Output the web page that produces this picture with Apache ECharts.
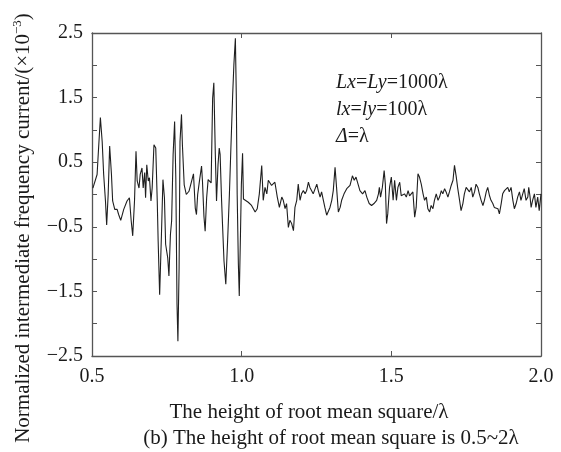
<!DOCTYPE html>
<html>
<head>
<meta charset="utf-8">
<script src="https://cdn.jsdelivr.net/npm/echarts@6/dist/echarts.min.js"></script>
<style>html,body{margin:0;padding:0;background:#fff;}#c{width:561px;height:452px;}</style>
</head>
<body>
<div id="c"></div>
<script>
// Height of root mean square (λ)
const xValues = [
0.503,0.517,0.522,0.528,0.534,0.539,0.545,0.549,0.554,0.559,0.565,0.569,0.576,0.584,0.589,0.596,0.606,0.617,0.625,0.631,
0.636,0.642,0.647,0.651,0.657,0.661,0.667,0.671,0.676,0.679,0.683,0.688,0.692,0.697,0.701,0.707,0.713,0.718,0.721,0.726,
0.732,0.737,0.742,0.746,0.753,0.757,0.762,0.766,0.771,0.776,0.780,0.784,0.787,0.791,0.794,0.799,0.802,0.808,0.815,0.824,
0.833,0.839,0.845,0.849,0.853,0.859,0.866,0.869,0.874,0.878,0.883,0.888,0.894,0.898,0.903,0.907,0.912,0.916,0.921,0.925,
0.928,0.933,0.936,0.941,0.947,0.953,0.959,0.964,0.970,0.974,0.979,0.982,0.985,0.989,0.992,0.996,0.999,1.003,
1.006,1.011,1.022,1.033,1.045,1.052,1.059,1.067,1.072,1.078,1.084,1.089,1.095,1.100,1.106,1.111,1.119,1.126,1.134,1.139,
1.145,1.150,1.156,1.161,1.167,1.173,1.178,1.184,1.189,1.195,1.200,1.206,1.212,1.217,1.223,1.228,1.234,1.239,1.245,1.251,
1.256,1.262,1.267,1.273,1.278,1.284,1.290,1.295,1.301,1.306,1.312,1.317,1.323,1.329,1.334,1.342,1.351,1.362,1.370,1.376,
1.382,1.390,1.395,1.404,1.412,1.418,1.426,1.434,1.442,1.451,1.457,1.460,1.464,1.470,1.476,1.480,1.484,1.488,
1.494,1.500,1.506,1.511,1.517,1.522,1.528,1.533,1.539,1.544,1.550,1.556,1.561,1.567,1.572,1.578,1.583,1.589,1.594,1.600,
1.606,1.611,1.617,1.622,1.628,1.633,1.639,1.644,1.650,1.656,1.661,1.667,1.672,1.678,1.683,1.689,1.694,1.700,1.706,1.711,
1.717,1.722,1.728,1.733,1.739,1.744,1.750,1.756,1.761,1.767,1.772,1.778,1.783,1.789,1.794,1.800,1.806,1.811,1.817,1.822,
1.828,1.833,1.839,1.844,1.850,1.856,1.861,1.867,1.872,1.878,1.883,1.889,1.894,1.900,1.906,1.911,1.917,1.922,1.928,1.933,
1.939,1.944,1.950,1.956,1.959,1.963,1.967,1.972,1.978,1.983,1.989,1.994,2.000
];
// Normalized intermediate frequency current (×10^-3)
const yValues = [
0.10,0.31,0.72,1.19,0.82,0.31,-0.10,-0.47,0.00,0.75,0.31,-0.10,-0.23,-0.23,-0.31,-0.40,-0.23,-0.10,-0.05,-0.41,
-0.64,-0.10,0.67,0.21,0.10,0.31,0.41,0.10,0.34,-0.05,0.46,0.21,0.26,-0.10,0.10,0.77,0.72,-0.10,-0.72,-1.55,
-0.62,0.23,-0.05,-0.77,-0.98,-1.26,-0.62,-0.41,0.62,1.13,0.26,-1.70,-2.27,-1.13,0.82,1.24,0.77,0.15,0.00,0.05,
0.21,0.32,-0.21,-0.31,0.00,0.21,0.44,0.21,-0.34,-0.57,-0.05,0.23,0.21,0.18,1.49,1.73,0.62,-0.10,0.46,0.72,
0.62,-0.10,-0.46,-1.03,-1.39,-0.72,0.00,0.72,1.55,2.01,2.42,1.55,0.00,-1.08,-1.57,-0.62,0.15,0.64,
-0.07,-0.09,-0.12,-0.17,-0.27,-0.22,0.01,0.45,-0.09,0.11,0.01,0.22,0.24,0.14,0.16,0.19,-0.04,-0.20,-0.04,-0.09,
-0.22,-0.14,-0.51,-0.40,-0.45,-0.56,-0.20,-0.09,0.16,-0.09,0.01,0.06,0.01,0.06,0.19,0.11,0.14,0.01,0.04,0.16,
0.06,-0.04,0.04,-0.09,-0.20,-0.32,-0.30,-0.20,-0.09,0.06,0.42,0.11,-0.27,-0.20,-0.09,0.01,0.09,0.14,0.29,0.22,
0.27,0.14,0.06,0.01,0.06,-0.04,-0.14,-0.17,-0.14,-0.09,0.01,0.11,-0.04,0.11,0.37,0.16,-0.45,-0.30,
0.11,0.27,-0.09,0.22,-0.09,0.11,0.19,-0.02,-0.04,0.01,-0.04,0.06,-0.02,0.01,0.04,-0.35,-0.20,0.32,0.27,0.16,
0.01,-0.09,-0.04,-0.22,-0.27,-0.17,-0.22,-0.09,0.01,-0.09,-0.04,0.06,0.01,0.09,0.04,-0.04,0.04,0.14,0.22,0.45,
0.27,0.09,-0.09,-0.25,-0.14,0.01,0.11,0.14,0.04,0.11,-0.04,0.04,0.16,0.11,0.01,-0.09,-0.17,-0.09,0.04,0.11,
-0.02,-0.09,-0.14,-0.20,-0.17,-0.22,-0.30,-0.14,0.01,0.06,0.09,0.11,0.04,0.11,-0.09,-0.22,-0.14,-0.04,0.04,-0.09,
0.01,0.09,-0.09,-0.04,0.11,-0.02,-0.20,-0.09,0.01,-0.20,-0.04,-0.25,0.01
];
const xTicks = [0.5, 1.0, 1.5, 2.0];
const yTickLabels = ['2.5', '1.5', '0.5', '−0.5', '−1.5', '−2.5'];

const FONT = '"Liberation Serif", "Times New Roman", serif';
const TXT = '#1a1a1a';
const AX = '#555';

const seriesData = xValues.map((x, i) => [x, yValues[i]]);

function yFmt(v) {
  const k = Math.round(v * 2);
  if (Math.abs(k) % 2 !== 1) return '';
  const s = Math.abs(v).toFixed(1);
  const lab = (v < 0 ? '−' : '') + s;
  return yTickLabels.indexOf(lab) >= 0 ? lab : '';
}
function xFmt(v) {
  const lab = v.toFixed(1);
  return xTicks.some(t => Math.abs(t - v) < 1e-9) ? lab : '';
}

function axisBase() {
  return {
    type: 'value',
    axisLine: { show: true, onZero: false, lineStyle: { color: AX, width: 1.3 } },
    axisTick: { show: true, inside: true, length: 5, lineStyle: { color: AX, width: 1 } },
    splitLine: { show: false },
  };
}

const chart = echarts.init(document.getElementById('c'), null, { renderer: 'canvas' });
chart.setOption({
  backgroundColor: '#fff',
  animation: false,
  grid: { left: 92, right: 20, top: 33, bottom: 96, containLabel: false },
  xAxis: [
    Object.assign(axisBase(), {
      position: 'bottom', min: 0.5, max: 2.0, interval: 0.5,
      axisLabel: { show: true, formatter: xFmt, fontFamily: FONT, fontSize: 20, color: TXT, margin: 11 }
    }),
    Object.assign(axisBase(), {
      position: 'top', min: 0.5, max: 2.0, interval: 0.5,
      axisLabel: { show: false }
    })
  ],
  yAxis: [
    Object.assign(axisBase(), {
      position: 'left', min: -2.5, max: 2.5, interval: 0.5,
      axisLabel: { show: true, formatter: yFmt, fontFamily: FONT, fontSize: 20, color: TXT, margin: 9 }
    }),
    Object.assign(axisBase(), {
      position: 'right', min: -2.5, max: 2.5, interval: 0.5,
      axisLabel: { show: false }
    })
  ],
  series: [{
    type: 'line',
    data: seriesData,
    xAxisIndex: 0, yAxisIndex: 0,
    showSymbol: false,
    symbol: 'none',
    lineStyle: { color: '#1f1f1f', width: 1.1 },
    silent: true
  }],
  graphic: [
    {
      type: 'text', x: 23, y: 228, rotation: Math.PI / 2,
      style: {
        text: 'Normalized intermediate frequency current/(×10{sup|−3})',
        font: '21px ' + FONT, fill: TXT, align: 'center', verticalAlign: 'middle',
        rich: { sup: { fontSize: 13, fontFamily: FONT, fill: TXT, verticalAlign: 'top', lineHeight: 23, padding: [0, 0, 10, 0] } }
      }
    },
    {
      type: 'text', x: 309, y: 412,
      style: { text: 'The height of root mean square/λ', font: '21px ' + FONT, fill: TXT, align: 'center', verticalAlign: 'middle' }
    },
    {
      type: 'text', x: 331, y: 438,
      style: { text: '(b) The height of root mean square is 0.5~2λ', font: '21px ' + FONT, fill: TXT, align: 'center', verticalAlign: 'middle' }
    },
    {
      type: 'text', x: 336, y: 83,
      style: {
        text: '{i|Lx}={i|Ly}=1000λ', font: '20px ' + FONT, fill: TXT, align: 'left', verticalAlign: 'middle',
        rich: { i: { fontStyle: 'italic', fontSize: 20, fontFamily: FONT, fill: TXT } }
      }
    },
    {
      type: 'text', x: 336, y: 110,
      style: {
        text: '{i|lx}={i|ly}=100λ', font: '20px ' + FONT, fill: TXT, align: 'left', verticalAlign: 'middle',
        rich: { i: { fontStyle: 'italic', fontSize: 20, fontFamily: FONT, fill: TXT } }
      }
    },
    {
      type: 'text', x: 336, y: 137,
      style: {
        text: '{i|Δ}=λ', font: '20px ' + FONT, fill: TXT, align: 'left', verticalAlign: 'middle',
        rich: { i: { fontStyle: 'italic', fontSize: 20, fontFamily: FONT, fill: TXT } }
      }
    }
  ]
});
</script>
</body>
</html>
